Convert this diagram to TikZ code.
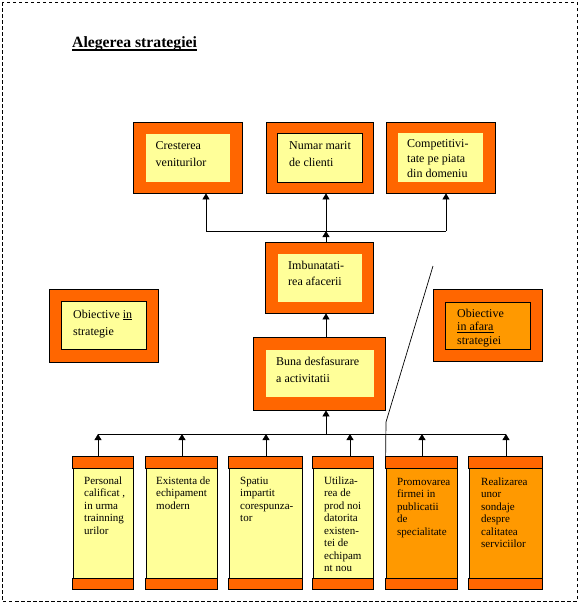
\documentclass[tikz,border=0pt]{standalone}
\usepackage{fontspec}
\setmainfont{Liberation Serif}
\usetikzlibrary{arrows.meta,calc}
\definecolor{ora}{HTML}{FF6600}
\definecolor{yel}{HTML}{FFFF99}
\definecolor{orb}{HTML}{FF9900}
\newcommand\rectnode[6]{\node[#6, minimum width={(#4)-(#2)}, minimum height={(#5)-(#3)}] (#1) at ({((#2)+(#4))/2},{((#3)+(#5))/2}) {};}
\newcommand\firststrut{\rule{0pt}{8.3pt}}
\newcommand\firststrutb{\rule{0pt}{7.6pt}}
\newcommand\bottombox[4]{%
  \rectnode{#1}{#2}{457}{#3}{589}{boxline, fill=#4}
  \draw[boxline, fill=ora] (#1.north west) rectangle ([yshift=-12pt]#1.north east);
  \draw[boxline, fill=ora] ([yshift=11pt]#1.south west) rectangle (#1.south east);
}
\tikzset{
  boxline/.style={draw=black, line width=0.8pt, inner sep=0pt},
  outerbox/.style={boxline, fill=ora},
  innerplain/.style={inner sep=0pt, draw=none, fill=yel},
  innerframed/.style={boxline, fill=yel},
  txt/.style={anchor=north west, inner sep=0pt, align=left},
  arr/.style={line width=0.8pt, -{Triangle[width=7pt,length=6pt]}},
  conn/.style={line width=0.8pt},
}
\begin{document}
\begin{tikzpicture}[x=1pt,y=-1pt]
\useasboundingbox (0,0) rectangle (579,603);
\draw[line width=0.9pt, dash pattern=on 3.5pt off 2.5pt] (2,2) rectangle (577,601);

% title
\node[anchor=base west, inner sep=0pt, font={\fontsize{15.7}{19}\bfseries\selectfont}] (title) at (72,47) {Alegerea strategiei};
\draw[line width=1.5pt] ([yshift=-3.2pt]title.base west) -- ([yshift=-3.2pt]title.base east);

% top row
\rectnode{c1}{133}{122}{242}{193}{outerbox}
\rectnode{c1i}{146}{134}{230}{182}{innerplain}
\rectnode{c2}{266}{122}{373}{193}{outerbox}
\rectnode{c2i}{277}{133}{362}{182}{innerframed}
\rectnode{c3}{386}{122}{495}{193}{outerbox}
\rectnode{c3i}{398}{133}{483}{182}{innerplain}
\node[txt, font={\fontsize{12}{17.5}\selectfont}] (t1) at (155.5,140.7) {\firststrut Cresterea\\veniturilor};
\node[txt, font={\fontsize{12}{17.5}\selectfont}] (t2) at (289,140.7) {\firststrut Numar marit\\de clienti};
\node[txt, font={\fontsize{12}{15}\selectfont}] (t3) at (407,138.7) {\firststrut Competitivi-\\tate pe piata\\din domeniu};

% middle
\rectnode{imb}{265}{242}{373}{313}{outerbox}
\rectnode{imbi}{278}{254}{362}{302}{innerplain}
\node[txt, font={\fontsize{12}{16.7}\selectfont}] (t4) at (288,260.7) {\firststrut Imbunatati-\\rea afacerii};
\rectnode{buna}{253}{337}{385}{410}{outerbox}
\rectnode{bunai}{266}{350}{374}{397}{innerplain}
\node[txt, font={\fontsize{12}{16.7}\selectfont}] (t5) at (276,356.7) {\firststrut Buna desfasurare\\a activitatii};

% side boxes
\rectnode{oin}{49}{289}{158}{362}{outerbox}
\rectnode{oini}{61}{301}{146}{349}{innerframed}
\node[txt, font={\fontsize{12}{17.3}\selectfont}] (t6) at (73,309.7) {\firststrut Obiective \underline{in}\\strategie};
\rectnode{oaf}{433}{289}{542}{361}{outerbox}
\rectnode{oafi}{445}{302}{530}{349}{boxline, fill=orb}
\node[txt, font={\fontsize{12}{13.6}\selectfont}] (t7) at (457,308.7) {\firststrut Obiective\\\underline{in afara}\\strategiei};

% bottom row
\bottombox{pa}{73}{133}{yel}
\bottombox{pb}{146}{217}{yel}
\bottombox{pc}{229}{302}{yel}
\bottombox{pd}{313}{373}{yel}
\bottombox{pe}{386}{457}{orb}
\bottombox{pf}{469}{542}{orb}
\tikzset{btxt/.style={txt, font={\fontsize{11}{12.5}\selectfont}}}
\node[btxt] (ta) at (84,476.4) {\firststrutb Personal\\calificat ,\\in urma\\trainning\\urilor};
\node[btxt] (tb) at (156,476.4) {\firststrutb Existenta de\\echipament\\modern};
\node[btxt] (tc) at (240,476.4) {\firststrutb Spatiu\\impartit\\corespunza-\\tor};
\node[btxt] (td) at (324,476.4) {\firststrutb Utiliza-\\rea de\\prod noi\\datorita\\existen-\\tei de\\echipam\\nt nou};
\node[btxt] (te) at (397,477.4) {\firststrutb Promovarea\\firmei in\\publicatii\\de\\specialitate};
\node[btxt] (tf) at (481,477.4) {\firststrutb Realizarea\\unor\\sondaje\\despre\\calitatea\\serviciilor};

% top connectors
\coordinate (h1) at (206,231);
\coordinate (hm) at (326,231);
\coordinate (h3) at (446,231);
\draw[conn] (h1) -- (h3);
\draw[arr] (h1) -- (h1 |- c1.south);
\draw[arr] (hm) -- (hm |- c2.south);
\draw[arr] (h3) -- (h3 |- c3.south);
\draw[arr] (hm |- imb.north) -- (hm);
\draw[arr] (hm |- buna.north) -- (hm |- imb.south);

% bottom connectors
\coordinate (b1) at (98,434);
\coordinate (b2) at (182,434);
\coordinate (b3) at (266,434);
\coordinate (bm) at (326,434);
\coordinate (b4) at (350,434);
\coordinate (b5) at (422,434);
\coordinate (b6) at (506,434);
\draw[conn] (b1) -- (b6);
\draw[arr] (bm) -- (bm |- buna.south);
\draw[arr] (b1 |- pa.north) -- (b1);
\draw[arr] (b2 |- pb.north) -- (b2);
\draw[arr] (b3 |- pc.north) -- (b3);
\draw[arr] (b4 |- pd.north) -- (b4);
\draw[arr] (b5 |- pe.north) -- (b5);
\draw[arr] (b6 |- pf.north) -- (b6);

% diagonal separator
\coordinate (d1) at (433,266);
\coordinate (d2) at (386,422);
\draw[line width=0.7pt] (d1) -- (d2) -- (pe.north west);
\end{tikzpicture}
\end{document}
